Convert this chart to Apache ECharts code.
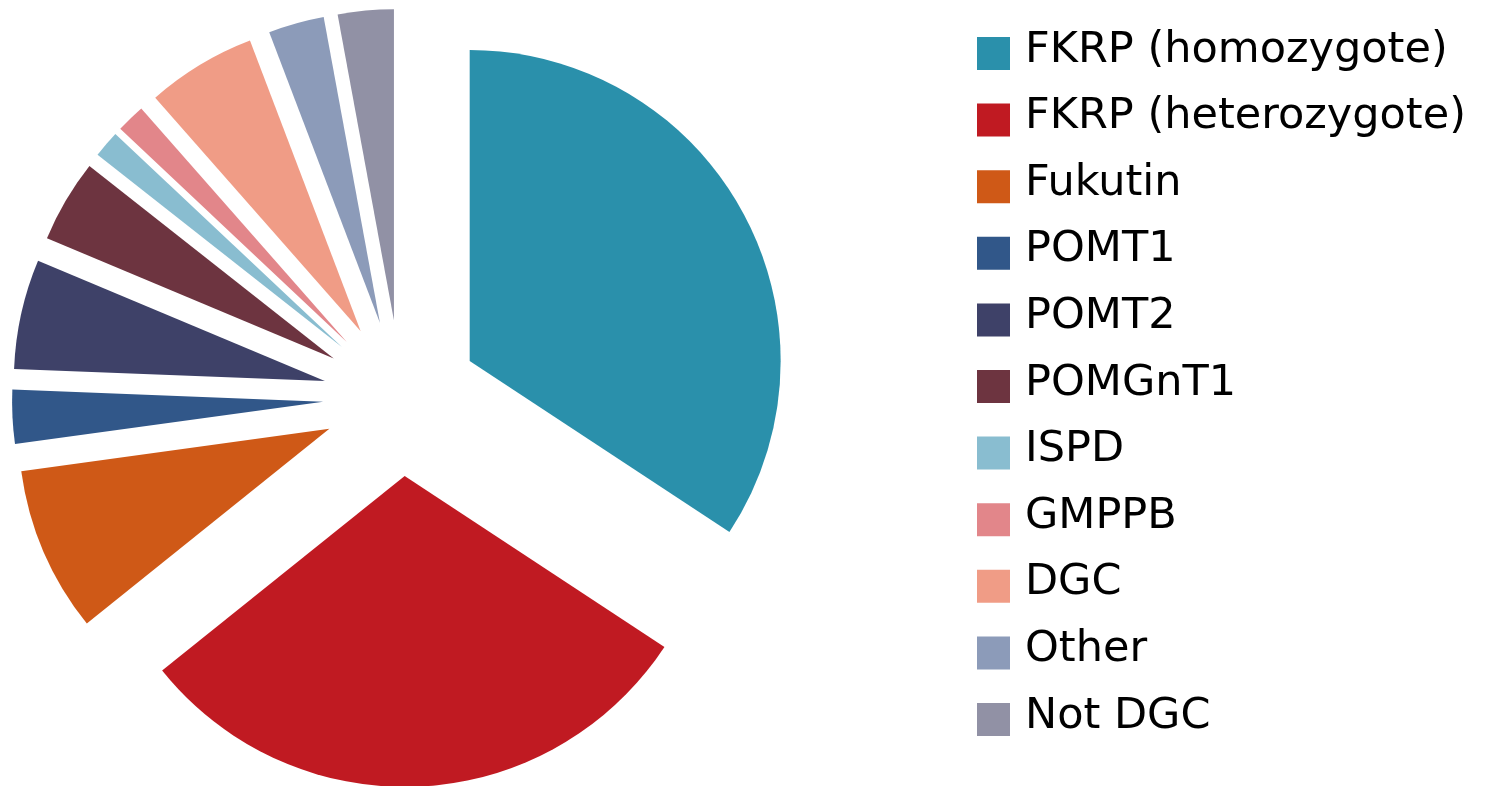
<!DOCTYPE html>
<html>
<head>
<meta charset="utf-8">
<script src="https://cdn.jsdelivr.net/npm/echarts@6/dist/echarts.min.js"></script>
<style>html,body{margin:0;padding:0;background:#fff;}#c{width:1509px;height:786px;}</style>
</head>
<body>
<div id="c"></div>
<script>
const categories = ['FKRP (homozygote)', 'FKRP (heterozygote)', 'Fukutin', 'POMT1', 'POMT2', 'POMGnT1', 'ISPD', 'GMPPB', 'DGC', 'Other', 'Not DGC'];
const values = [34.3, 30.0, 8.6, 2.8, 5.7, 4.3, 1.4, 1.5, 5.7, 2.9, 2.9];
const colors = ['#2a90ab', '#c01a22', '#cf5917', '#315789', '#3e4168', '#6d3440', '#89bdd0', '#e2868a', '#f09c86', '#8c9bb9', '#9191a5'];

const chart = echarts.init(document.getElementById('c'), null, {renderer: 'canvas'});
chart.setOption({
  animation: false,
  color: colors,
  legend: {
    orient: 'vertical',
    left: 977,
    top: 29,
    padding: 0,
    itemWidth: 33,
    itemHeight: 33,
    itemGap: 17.6,
    icon: 'rect',
    selectedMode: false,
    formatter: '{a|{name}}',
    textStyle: {
      fontFamily: 'DejaVu Sans', fontSize: 43, color: '#000',
      rich: { a: { fontFamily: 'DejaVu Sans', fontSize: 43, lineHeight: 43, color: '#000', padding: [0, 0, 6, 10] } }
    },
    data: categories
  },
  series: [{
    type: 'pie',
    center: [401, 398],
    radius: [0, 311],
    startAngle: 90,
    clockwise: true,
    selectedMode: 'multiple',
    selectedOffset: 78,
    avoidLabelOverlap: false,
    label: { show: false },
    labelLine: { show: false },
    emphasis: { disabled: true },
    itemStyle: { borderWidth: 0 },
    data: categories.map((n, i) => ({ name: n, value: values[i], selected: true }))
  }]
});
</script>
</body>
</html>
